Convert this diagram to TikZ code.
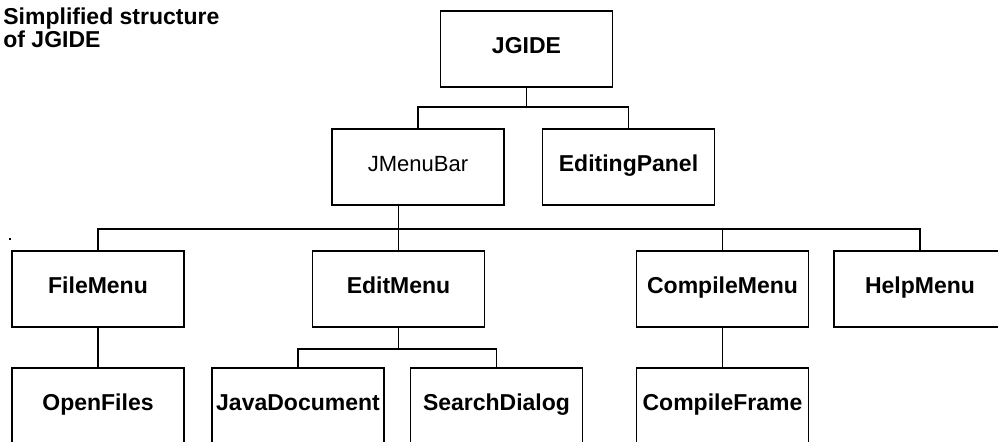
\documentclass[tikz,border=0pt]{standalone}
\usepackage{fontspec}
\setmainfont{Liberation Sans}
\usepackage{tikz}
\usetikzlibrary{positioning}

\tikzset{
  cls/.style={draw, line width=0.8pt, minimum width=86pt, minimum height=38pt,
              inner sep=1pt, text height=8pt, text depth=4pt,
              font=\fontsize{11.5}{12}\selectfont\bfseries},
  plaincls/.style={cls, font=\fontsize{11}{12}\selectfont},
  link/.style={line width=0.8pt}
}

\begin{document}
\begin{tikzpicture}[x=0.5pt, y=-0.5pt]
    \useasboundingbox (0,0) rectangle (998,441);
    \clip (0,0) rectangle (998,441);
    % title
    \node[anchor=north west, align=left, inner sep=0pt,
          font=\fontsize{11.5}{10}\selectfont\bfseries] (title) at (3,7)
      {Simplified structure\\of JGIDE};
    \fill (8.5,238) rectangle (10.5,240);
    % classes
    \node[cls] (jgide) at (526.5,49) {JGIDE};
    \node[plaincls] (menubar) at (418,167) {JMenuBar};
    \node[cls] (editpanel) at (628.5,167) {EditingPanel};
    \node[cls] (filem) at (98,289) {FileMenu};
    \node[cls] (editm) at (398.5,289) {EditMenu};
    \node[cls] (compm) at (722.5,289) {CompileMenu};
    \node[cls] (helpm) at (920,289) {HelpMenu};
    \node[cls] (openf) at (98,406) {OpenFiles};
    \node[cls] (javad) at (298,406) {JavaDocument};
    \node[cls] (searchd) at (496.5,406) {SearchDialog};
    \node[cls] (compf) at (722.5,406) {CompileFrame};
    % buses
    \coordinate (bus1) at (0,107);
    \coordinate (bus2) at (0,229);
    \coordinate (bus3) at (0,349);
    \draw[link] (jgide.south) -- (jgide.south |- bus1);
    \draw[link] (menubar.north) |- (editpanel.north |- bus1) -- (editpanel.north);
    \draw[link] (menubar.south -| editm.north) -- (editm.north);
    \draw[link] (filem.north) |- (helpm.north |- bus2) -- (helpm.north);
    \draw[link] (compm.north) -- (compm.north |- bus2);
    \draw[link] (filem) -- (openf);
    \draw[link] (compm) -- (compf);
    \draw[link] (editm.south) -- (editm.south |- bus3);
    \draw[link] (javad.north) |- (searchd.north |- bus3) -- (searchd.north);
\end{tikzpicture}
\end{document}
